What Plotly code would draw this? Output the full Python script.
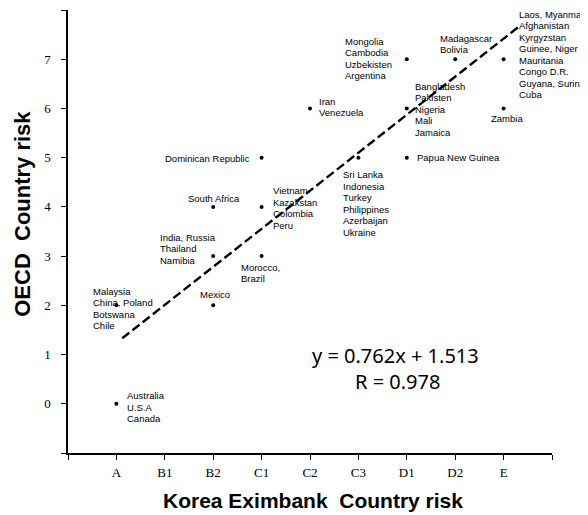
import plotly.graph_objects as go

# ---------------- data ----------------
grades = ["A", "B1", "B2", "C1", "C2", "C3", "D1", "D2", "E"]
oecd_ticks = [0, 1, 2, 3, 4, 5, 6, 7]

pt_grade = ["A", "A", "B2", "B2", "B2", "C1", "C1", "C1",
            "C2", "C3", "D1", "D1", "D1", "D2", "E", "E"]
pt_oecd = [0, 2, 2, 3, 4, 4, 3, 5, 6, 5, 7, 6, 5, 7, 7, 6]
pt_countries = [
    ["Australia", "U.S.A", "Canada"],
    ["Malaysia", "China, Poland", "Botswana", "Chile"],
    ["Mexico"],
    ["India, Russia", "Thailand", "Namibia"],
    ["South Africa"],
    ["Vietnam", "Kazakstan", "Colombia", "Peru"],
    ["Morocco,", "Brazil"],
    ["Dominican Republic"],
    ["Iran", "Venezuela"],
    ["Sri Lanka", "Indonesia", "Turkey", "Philippines", "Azerbaijan", "Ukraine"],
    ["Mongolia", "Cambodia", "Uzbekisten", "Argentina"],
    ["Bangladesh", "Pakisten", "Nigeria", "Mali", "Jamaica"],
    ["Papua New Guinea"],
    ["Madagascar", "Bolivia"],
    ["Laos, Myanmar", "Afghanistan", "Kyrgyzstan", "Guinee, Niger",
     "Mauritania", "Congo D.R.", "Guyana, Surinam", "Cuba"],
    ["Zambia"],
]

# fitted line as drawn (grade position, OECD risk)
trend_grade_pos = [1.12, 9.30]
trend_oecd = [1.33, 7.65]

eq_line1 = "y = 0.762x + 1.513"
eq_line2 = "R = 0.978"

x_title = "Korea Eximbank&nbsp; Country risk"
y_title = "OECD&nbsp; Country risk"

# ---------------- layout helpers (placement of labels, in px) ----------------
# (anchor, dx, dy of first line centre relative to the point; dy positive = down)
label_place = [
    ("left", 10, -8),
    ("left", -24, -14),
    ("center", 2, -11),
    ("left", -54, -19),
    ("center", 1, -8),
    ("left", 10, -16),
    ("left", -22, 11),
    ("right", -11, 1),
    ("left", 8, -7),
    ("left", -16, 17),
    ("left", -63, -18),
    ("left", 7, -22),
    ("left", 9, 0),
    ("left", -16, -21),
    ("left", 14, -45),
    ("center", 3, 10),
]
LINE = 11.5

px = [grades.index(g) + 1 for g in pt_grade]

fig = go.Figure()

fig.add_trace(go.Scatter(
    x=trend_grade_pos, y=trend_oecd, mode="lines",
    line=dict(color="black", width=2.4, dash="9px,4px"),
    hoverinfo="skip", showlegend=False,
))

fig.add_trace(go.Scatter(
    x=px, y=pt_oecd, mode="markers",
    marker=dict(color="black", size=4),
    showlegend=False,
))

annotations = []
label_font = dict(family="Liberation Sans, Arial, sans-serif", size=9.5, color="black")
for xi, yi, lines, (anc, dx, dy) in zip(px, pt_oecd, pt_countries, label_place):
    for j, ln in enumerate(lines):
        annotations.append(dict(
            x=xi, y=yi, xref="x", yref="y", text=ln, showarrow=False,
            xanchor=anc, yanchor="middle", xshift=dx, yshift=-(dy + j * LINE),
            font=label_font, borderpad=0,
        ))

eq_font = dict(family="Noto Sans, Open Sans, sans-serif", size=20, color="black")
annotations.append(dict(x=6.76, y=0.99, xref="x", yref="y", text=eq_line1,
                        showarrow=False, xanchor="center", yanchor="middle", font=eq_font))
annotations.append(dict(x=6.80, y=0.45, xref="x", yref="y", text=eq_line2,
                        showarrow=False, xanchor="center", yanchor="middle", font=eq_font))

# axis titles
annotations.append(dict(
    x=0.506, y=0, xref="paper", yref="paper", yshift=-47, text=x_title,
    showarrow=False, xanchor="center", yanchor="middle",
    font=dict(family="Liberation Sans, Arial, sans-serif", size=21, color="black", weight="bold"),
))
annotations.append(dict(
    x=0, y=0.54, xref="paper", yref="paper", xshift=-45, text=y_title,
    showarrow=False, xanchor="center", yanchor="middle", textangle=-90,
    font=dict(family="Liberation Sans, Arial, sans-serif",
              size=22, color="black", weight="bold"),
))

tick_font = dict(family="Liberation Serif, Times New Roman, serif", size=13, color="black")

# the page body adds an 8px margin, so the figure is drawn 8px smaller with reduced left/top margins
fig.update_layout(
    width=580, height=507,
    margin=dict(l=60, r=36, t=2, b=62),
    paper_bgcolor="white", plot_bgcolor="white",
    annotations=annotations,
    xaxis=dict(
        range=[0, 10],
        tickvals=list(range(0, 11)),
        ticktext=[""] + grades + [""],
        ticks="outside", ticklen=5, tickwidth=1, tickcolor="black",
        showline=True, linecolor="black", linewidth=1.5,
        showgrid=False, zeroline=False, tickfont=tick_font,
        ticklabelstandoff=2,
    ),
    yaxis=dict(
        range=[-1, 8],
        tickvals=list(range(-1, 9)),
        ticktext=[""] + [str(t) for t in oecd_ticks] + [""],
        ticks="outside", ticklen=5, tickwidth=1, tickcolor="black",
        showline=True, linecolor="black", linewidth=1.5,
        showgrid=False, zeroline=False, tickfont=tick_font,
        ticklabelstandoff=8,
    ),
)

fig.write_html("out.html")
